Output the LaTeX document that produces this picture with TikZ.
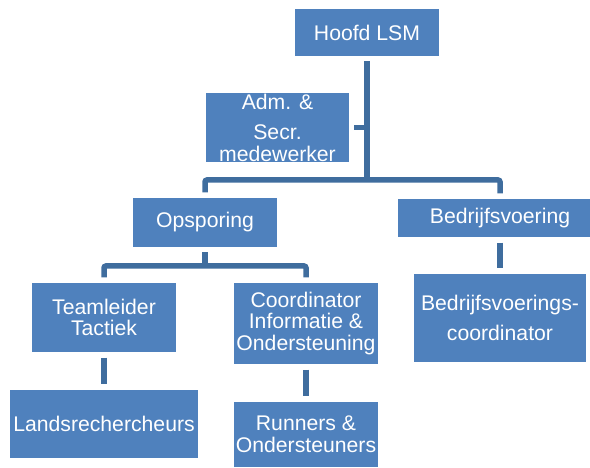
\documentclass[tikz,border=0pt]{standalone}
\usepackage{fontspec}
\setmainfont{Liberation Sans}
\definecolor{boxblue}{HTML}{4F81BD}
\definecolor{connblue}{HTML}{3F6D9E}
\begin{document}
\begin{tikzpicture}[x=1pt,y=-1pt,
  orgbox/.style={fill=boxblue, text=white, inner sep=0pt, align=center,
    font=\fontsize{21.2}{21.8}\selectfont},
  conn/.style={draw=connblue, line width=5.5pt, rounded corners=2pt},
  gap/.style={shorten <=5.5pt, shorten >=5.5pt}]
\useasboundingbox (0,0) rectangle (590,468);
\clip (0,0) rectangle (590,468);
\node[orgbox, minimum width=144pt, minimum height=47pt] (hoofd) at (367,32.5) {Hoofd LSM};
\node[orgbox, minimum width=143pt, minimum height=69pt] (adm) at (277.5,127.5) {Adm. \&\\[8.5pt]Secr.\\medewerker};
\node[orgbox, minimum width=144pt, minimum height=49pt] (opsp) at (205,222.5) {Opsporing};
\node[orgbox, minimum width=204pt, minimum height=38pt] (bedr) at (500,218) {Bedrijfsvoering};
\node[orgbox, minimum width=144pt, minimum height=69pt] (team) at (104,317.5) {Teamleider\\Tactiek};
\node[orgbox, minimum width=144pt, minimum height=81pt] (coord) at (306,323.5) {Coordinator\\Informatie \&\\Ondersteuning};
\node[orgbox, minimum width=172pt, minimum height=88pt] (bcoord) at (500,318) {Bedrijfsvoerings-\\[8pt]coordinator};
\node[orgbox, minimum width=188pt, minimum height=68pt] (lands) at (104,424) {Landsrechercheurs};
\node[orgbox, minimum width=144pt, minimum height=65pt] (run) at (306,434.5) {Runners \&\\Ondersteuners};
\coordinate (bar1) at (367,180);
\coordinate (bar2) at (205,266);
% connectors
\draw[conn, shorten <=5pt] (hoofd.south) -- (hoofd.south |- bar1);
\draw[conn, shorten <=5pt] (adm.east) -- (adm.east -| hoofd.south);
\draw[conn, gap] (opsp.north) |- (bar1) -| (bedr.north);
\draw[conn, shorten <=5pt] (opsp.south) -- (bar2);
\draw[conn, gap] (team.north) |- (bar2) -| (coord.north);
\draw[conn, gap] (team.south) -- (lands.north);
\draw[conn, gap] (coord.south) -- (run.north);
\draw[conn, gap] (bedr.south) -- (bcoord.north);
\end{tikzpicture}
\end{document}
